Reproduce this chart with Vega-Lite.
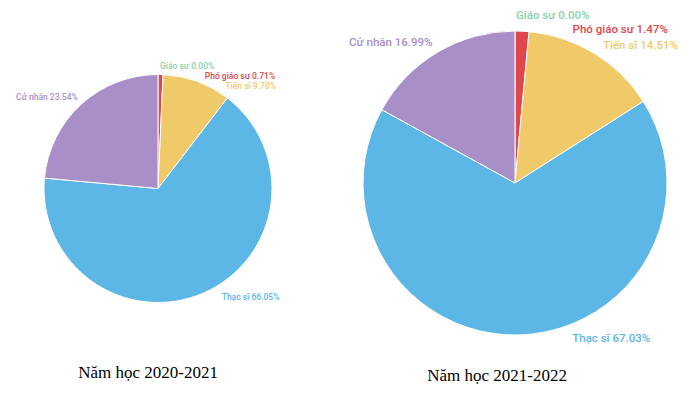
{
  "$schema": "https://vega.github.io/schema/vega-lite/v6.json",
  "padding": 0,
  "background": "white",
  "spacing": 41,
  "bounds": "flush",
  "config": {"view": {"stroke": null}, "text": {"font": "Roboto", "fontWeight": 500}},
  "datasets": {
    "y2021": [
      {"cat": "Giáo sư", "rank": 1, "value": 0.00, "label": "Giáo sư 0.00%"},
      {"cat": "Phó giáo sư", "rank": 2, "value": 0.71, "label": "Phó giáo sư 0.71%"},
      {"cat": "Tiến sĩ", "rank": 3, "value": 9.70, "label": "Tiến sĩ 9.70%"},
      {"cat": "Thạc sĩ", "rank": 4, "value": 66.05, "label": "Thạc sĩ 66.05%"},
      {"cat": "Cử nhân", "rank": 5, "value": 23.54, "label": "Cử nhân 23.54%"}
    ],
    "y2022": [
      {"cat": "Giáo sư", "rank": 1, "value": 0.00, "label": "Giáo sư 0.00%"},
      {"cat": "Phó giáo sư", "rank": 2, "value": 1.47, "label": "Phó giáo sư 1.47%"},
      {"cat": "Tiến sĩ", "rank": 3, "value": 14.51, "label": "Tiến sĩ 14.51%"},
      {"cat": "Thạc sĩ", "rank": 4, "value": 67.03, "label": "Thạc sĩ 67.03%"},
      {"cat": "Cử nhân", "rank": 5, "value": 16.99, "label": "Cử nhân 16.99%"}
    ]
  },
  "hconcat": [
    {
      "width": 316,
      "height": 377,
      "data": {"name": "y2021"},
      "title": {"text": "Năm học 2020-2021", "orient": "bottom", "font": "Liberation Serif", "fontSize": 17, "fontWeight": "normal", "color": "#000000", "baseline": "alphabetic", "offset": 1, "dx": -10},
      "encoding": {
        "theta": {"field": "value", "type": "quantitative", "stack": true},
        "order": {"field": "rank", "type": "ordinal"},
        "color": {"field": "cat", "type": "nominal", "legend": null,
          "scale": {"domain": ["Giáo sư", "Phó giáo sư", "Tiến sĩ", "Thạc sĩ", "Cử nhân"],
                    "range": ["#8ccfa8", "#e0474c", "#f0ca69", "#5cb6e6", "#a88fc8"]}}
      },
      "layer": [
        {"mark": {"type": "arc", "outerRadius": 114, "stroke": "white", "strokeWidth": 1}},
        {"mark": {"type": "text", "radius": 124, "fontSize": 8.5, "align": "left", "baseline": "middle", "dx": 2, "dy": 1},
         "encoding": {"text": {"condition": {"test": "datum.cat === 'Giáo sư'", "field": "label"}, "value": ""}}},
        {"mark": {"type": "text", "radius": 124, "fontSize": 8.5, "align": "left", "baseline": "middle", "dx": 44, "dy": 11},
         "encoding": {"text": {"condition": {"test": "datum.cat === 'Phó giáo sư'", "field": "label"}, "value": ""}}},
        {"mark": {"type": "text", "radius": 124, "fontSize": 8.5, "align": "left", "baseline": "middle", "dx": 25, "dy": 14},
         "encoding": {"text": {"condition": {"test": "datum.cat === 'Tiến sĩ'", "field": "label"}, "value": ""}}},
        {"mark": {"type": "text", "radius": 122, "fontSize": 8.5, "align": "right", "baseline": "middle", "dx": 2, "dy": -1},
         "encoding": {"text": {"condition": {"test": "datum.cat === 'Cử nhân'", "field": "label"}, "value": ""}}},
        {"mark": {"type": "text", "radius": 124, "fontSize": 8.5, "align": "left", "baseline": "middle", "dx": 14, "dy": -5},
         "encoding": {"text": {"condition": {"test": "datum.cat === 'Thạc sĩ'", "field": "label"}, "value": ""}}}
      ]
    },
    {
      "width": 316,
      "height": 366,
      "data": {"name": "y2022"},
      "title": {"text": "Năm học 2021-2022", "orient": "bottom", "font": "Liberation Serif", "fontSize": 17, "fontWeight": "normal", "color": "#000000", "baseline": "alphabetic", "offset": 15, "dx": -18},
      "encoding": {
        "theta": {"field": "value", "type": "quantitative", "stack": true},
        "order": {"field": "rank", "type": "ordinal"},
        "color": {"field": "cat", "type": "nominal", "legend": null,
          "scale": {"domain": ["Giáo sư", "Phó giáo sư", "Tiến sĩ", "Thạc sĩ", "Cử nhân"],
                    "range": ["#8ccfa8", "#e0474c", "#f0ca69", "#5cb6e6", "#a88fc8"]}}
      },
      "layer": [
        {"mark": {"type": "arc", "outerRadius": 152, "stroke": "white", "strokeWidth": 1}},
        {"mark": {"type": "text", "radius": 165, "fontSize": 11.5, "align": "left", "baseline": "middle", "dx": 1, "dy": -2},
         "encoding": {"text": {"condition": {"test": "datum.cat === 'Giáo sư'", "field": "label"}, "value": ""}}},
        {"mark": {"type": "text", "radius": 165, "fontSize": 11.5, "align": "left", "baseline": "middle", "dx": 50, "dy": 12},
         "encoding": {"text": {"condition": {"test": "datum.cat === 'Phó giáo sư'", "field": "label"}, "value": ""}}},
        {"mark": {"type": "text", "radius": 165, "fontSize": 11.5, "align": "left", "baseline": "middle", "dx": 2, "dy": 4},
         "encoding": {"text": {"condition": {"test": "datum.cat === 'Tiến sĩ'", "field": "label"}, "value": ""}}},
        {"mark": {"type": "text", "radius": 164, "fontSize": 11.5, "align": "right", "baseline": "middle", "dx": 1, "dy": 1},
         "encoding": {"text": {"condition": {"test": "datum.cat === 'Cử nhân'", "field": "label"}, "value": ""}}},
        {"mark": {"type": "text", "radius": 165, "fontSize": 11.5, "align": "left", "baseline": "middle", "dx": 52, "dy": -9},
         "encoding": {"text": {"condition": {"test": "datum.cat === 'Thạc sĩ'", "field": "label"}, "value": ""}}}
      ]
    }
  ]
}
